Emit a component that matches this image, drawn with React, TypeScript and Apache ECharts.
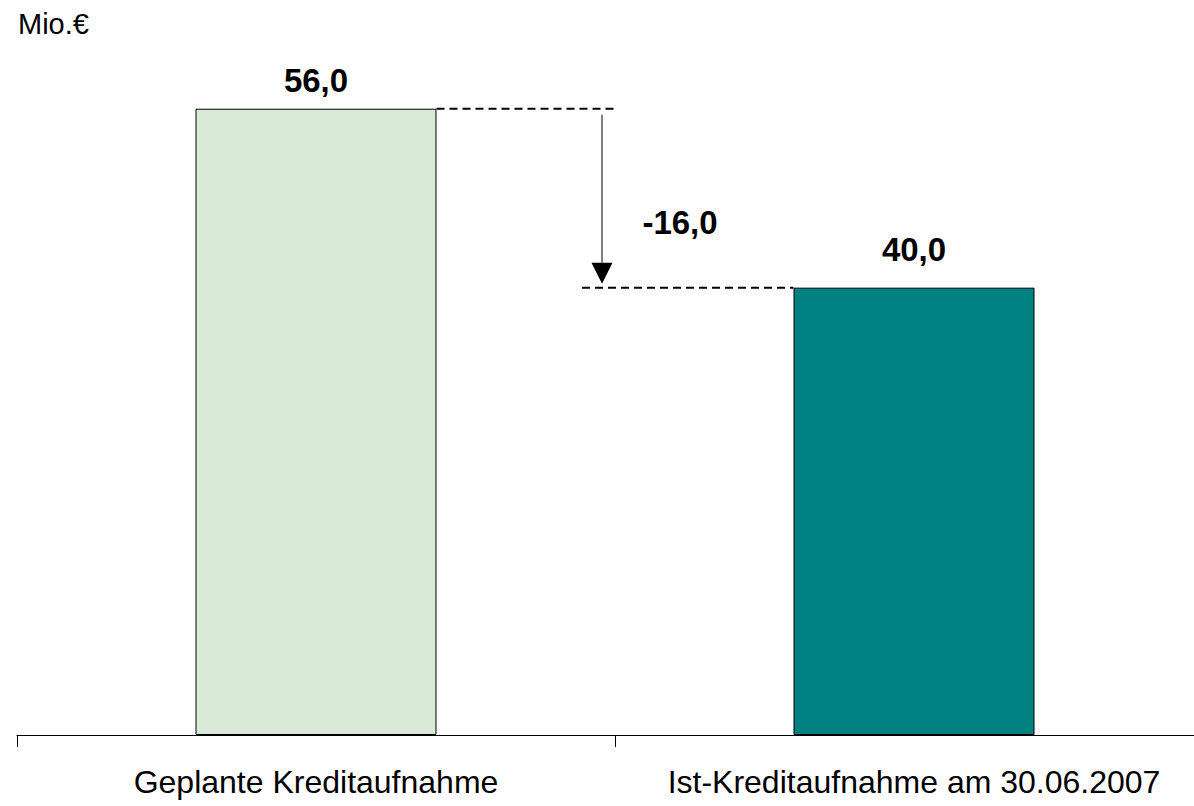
import React, { useEffect, useRef } from "react";
import * as echarts from "echarts";

const categories = ["Geplante Kreditaufnahme", "Ist-Kreditaufnahme am 30.06.2007"];
const values = [56.0, 40.0];
const barColors = ["#D9EAD6", "#008080"];
const differenceLabel = "-16,0";
const unitLabel = "Mio.€";

const FONT = "'Liberation Sans', Arial, sans-serif";

const fmt = (v: number) => v.toFixed(1).replace(".", ",");

export default function App() {
  const ref = useRef<HTMLDivElement>(null);

  useEffect(() => {
    document.body.style.margin = "0";
    if (!ref.current) return;
    const chart = echarts.init(ref.current, null, { renderer: "svg" });

    const data = values.map((v, i) => ({
      value: v,
      itemStyle: { color: barColors[i], borderColor: "#000", borderWidth: 1 },
      label: { distance: i === 0 ? 12 : 22 },
    }));

    chart.setOption({
      animation: false,
      grid: { left: 17, right: 4, top: 64, bottom: 71 },
      xAxis: {
        type: "category",
        data: categories,
        axisLine: { show: true, lineStyle: { color: "#000", width: 1 } },
        axisTick: { show: true, length: 12, lineStyle: { color: "#000", width: 1 } },
        axisLabel: {
          color: "#000",
          fontFamily: FONT,
          fontSize: 32,
          margin: 31,
          interval: 0,
        },
      },
      yAxis: { type: "value", min: 0, max: 60, show: false, splitLine: { show: false } },
      series: [
        {
          type: "bar",
          data,
          barWidth: 241,
          label: {
            show: true,
            position: "top",
            formatter: (p: any) => fmt(p.value),
            color: "#000",
            fontFamily: FONT,
            fontWeight: "bold",
            fontSize: 33,
          },
        },
      ],
    });

    const p1 = chart.convertToPixel({ xAxisIndex: 0, yAxisIndex: 0 }, [0, values[0]]) as number[];
    const p2 = chart.convertToPixel({ xAxisIndex: 0, yAxisIndex: 0 }, [1, values[1]]) as number[];
    const half = 241 / 2;
    const mid = (p1[0] + p2[0]) / 2;
    const arrowX = mid - 13;
    const dash = { stroke: "#000", lineWidth: 2, lineDash: [8, 5] };

    chart.setOption({
      graphic: [
        {
          type: "text",
          left: 18,
          top: 9,
          style: { text: unitLabel, fill: "#000", font: `29px ${FONT}` },
        },
        {
          type: "line",
          shape: { x1: p1[0] + half, y1: p1[1], x2: mid + 2, y2: p1[1] },
          style: dash,
        },
        {
          type: "line",
          shape: { x1: mid - 33, y1: p2[1], x2: p2[0] - half, y2: p2[1] },
          style: dash,
        },
        {
          type: "line",
          shape: { x1: arrowX, y1: p1[1] + 6, x2: arrowX, y2: p2[1] - 25 },
          style: { stroke: "#000", lineWidth: 1 },
        },
        {
          type: "polygon",
          shape: {
            points: [
              [arrowX - 10.5, p2[1] - 25],
              [arrowX + 10.5, p2[1] - 25],
              [arrowX, p2[1] - 4],
            ],
          },
          style: { fill: "#000" },
        },
        {
          type: "text",
          x: arrowX + 78,
          y: (p1[1] + p2[1]) / 2 + 24,
          style: {
            text: differenceLabel,
            fill: "#000",
            font: `bold 33px ${FONT}`,
            align: "center",
            verticalAlign: "middle",
          },
        },
      ],
    });

    return () => chart.dispose();
  }, []);

  return (
    <div style={{ position: "absolute", left: 0, top: 0, width: 1194, height: 806, overflow: "hidden" }}>
      <div ref={ref} style={{ width: 1217, height: 806 }} />
    </div>
  );
}
